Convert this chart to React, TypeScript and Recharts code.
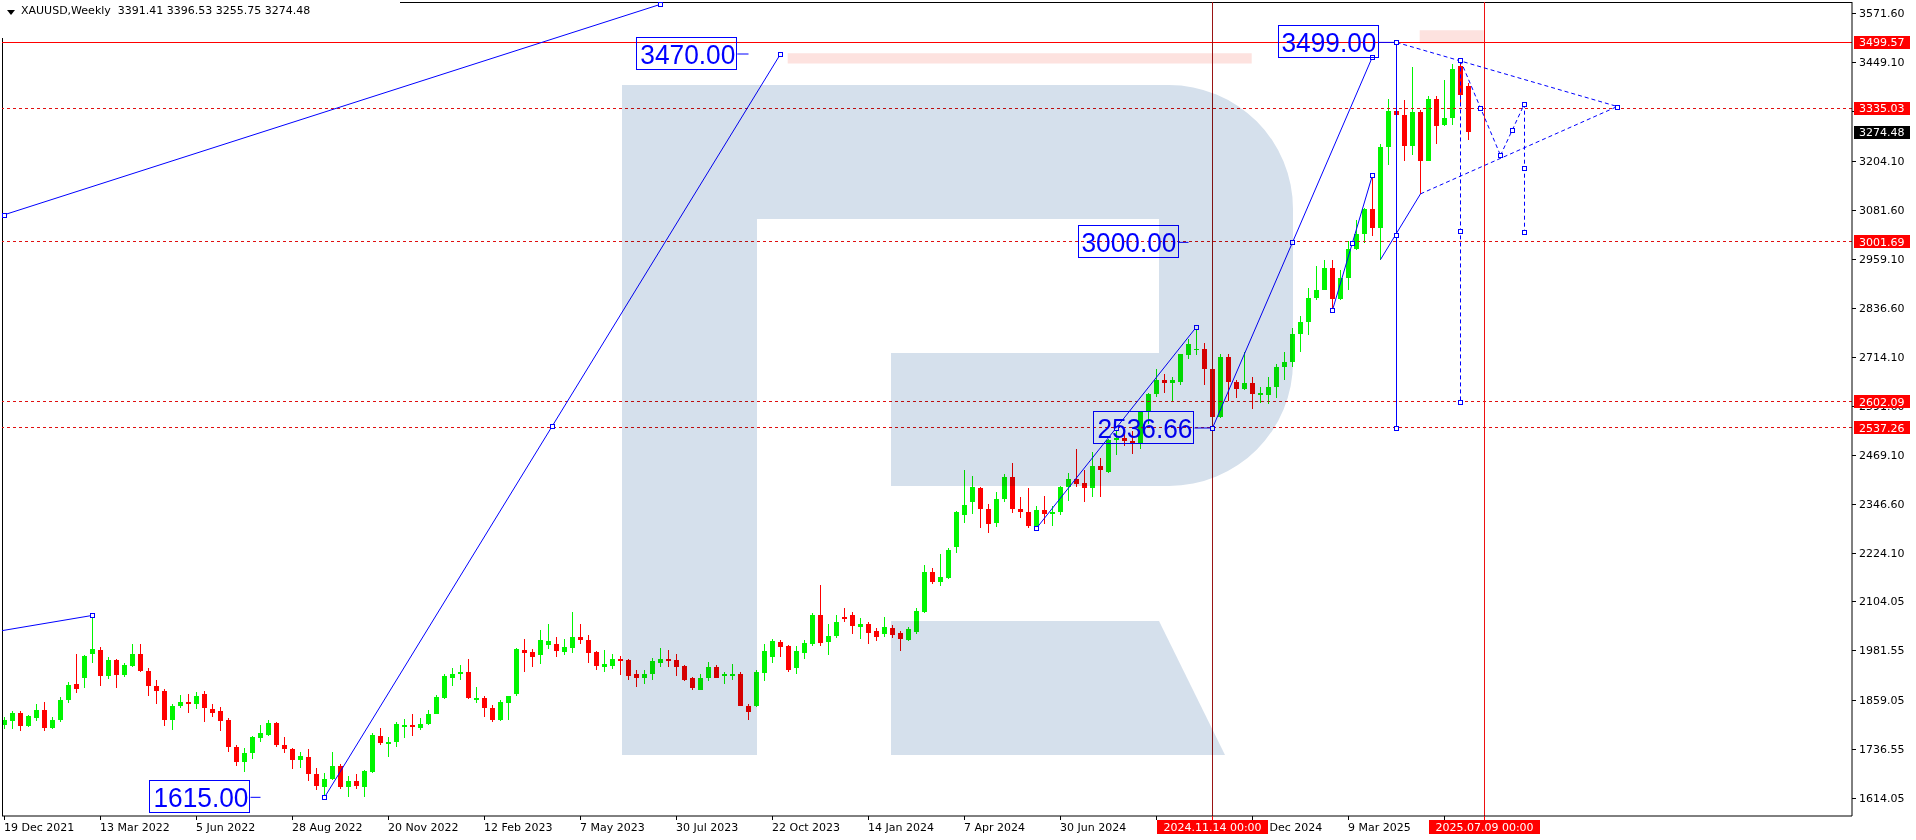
import React from 'react';
import { ComposedChart, Bar, XAxis, YAxis, ReferenceLine, ReferenceDot, ReferenceArea } from 'recharts';

// XAUUSD weekly candles, week index 0 = 19 Dec 2021
const opens = [
  1795, 1805, 1826, 1792, 1813, 1833, 1788, 1807, 1857, 1898, 1914, 1972, 1983, 1918, 1957, 1921, 1943, 1972, 1930, 1893,
  1881, 1808, 1844, 1852, 1848, 1872, 1836, 1830, 1808, 1740, 1703, 1725, 1763, 1770, 1800, 1745, 1735, 1709, 1715, 1674,
  1641, 1660, 1694, 1641, 1656, 1641, 1679, 1768, 1748, 1752, 1790, 1795, 1788, 1798, 1824, 1864, 1914, 1922, 1927, 1857,
  1862, 1839, 1807, 1850, 1874, 1983, 1977, 1970, 1995, 1997, 1977, 1987, 2014, 2007, 1977, 1940, 1942, 1959, 1957, 1924,
  1914, 1922, 1950, 1959, 1957, 1942, 1912, 1884, 1912, 1939, 1917, 1919, 1924, 1844, 1844, 1925, 1964, 2002, 1992, 1937,
  1975, 1997, 2071, 2002, 2017, 2064, 2071, 2039, 2047, 2029, 2022, 2037, 2024, 2007, 2027, 2077, 2177, 2152, 2162, 2239,
  2319, 2352, 2387, 2334, 2299, 2360, 2415, 2334, 2327, 2293, 2331, 2321, 2326, 2389, 2410, 2399, 2386, 2443, 2428, 2507,
  2512, 2503, 2497, 2578, 2621, 2657, 2650, 2652, 2718, 2733, 2733, 2685, 2563, 2715, 2652, 2633, 2649, 2618, 2619, 2638,
  2689, 2702, 2771, 2800, 2861, 2882, 2936, 2858, 2910, 2984, 3022, 3084, 3037, 3238, 3327, 3319, 3240, 3326, 3204, 3357,
  3292, 3311, 3440, 3391.41,
];
const highs = [
  1816, 1830, 1830, 1820, 1848, 1853, 1815, 1865, 1902, 1972, 1970, 2070, 1990, 1966, 1960, 1949, 1998, 1998, 1937, 1908,
  1885, 1849, 1870, 1872, 1879, 1880, 1847, 1841, 1814, 1746, 1739, 1767, 1795, 1807, 1802, 1765, 1738, 1727, 1735, 1688,
  1675, 1729, 1698, 1668, 1673, 1682, 1775, 1787, 1765, 1804, 1811, 1824, 1812, 1833, 1870, 1923, 1937, 1946, 1959, 1890,
  1869, 1846, 1858, 1869, 1988, 2009, 1986, 2032, 2048, 2014, 2009, 2077, 2047, 2021, 1980, 1982, 1972, 1967, 1960, 1932,
  1934, 1962, 1987, 1982, 1972, 1945, 1915, 1922, 1952, 1944, 1929, 1947, 1927, 1848, 1933, 1997, 2009, 2007, 1995, 1992,
  2007, 2075, 2144, 2047, 2069, 2087, 2077, 2062, 2052, 2037, 2064, 2044, 2029, 2039, 2087, 2194, 2187, 2222, 2236, 2330,
  2431, 2417, 2390, 2347, 2377, 2422, 2450, 2364, 2388, 2342, 2368, 2341, 2392, 2424, 2484, 2432, 2477, 2462, 2509, 2531,
  2528, 2529, 2580, 2625, 2685, 2672, 2665, 2721, 2758, 2790, 2750, 2688, 2721, 2722, 2657, 2726, 2664, 2638, 2665, 2697,
  2726, 2786, 2817, 2887, 2942, 2955, 2957, 2930, 3004, 3057, 3086, 3167, 3245, 3358, 3500, 3354, 3438, 3330, 3366, 3365,
  3404, 3446, 3452, 3396.53,
];
const lows = [
  1785, 1786, 1781, 1790, 1805, 1780, 1786, 1804, 1850, 1875, 1887, 1950, 1892, 1910, 1888, 1915, 1940, 1928, 1867, 1847,
  1794, 1782, 1837, 1825, 1836, 1802, 1816, 1781, 1727, 1694, 1677, 1711, 1754, 1767, 1740, 1725, 1685, 1687, 1655, 1634,
  1615, 1657, 1636, 1617, 1636, 1617, 1675, 1745, 1716, 1740, 1763, 1769, 1783, 1795, 1822, 1860, 1892, 1908, 1861, 1850,
  1815, 1804, 1805, 1809, 1867, 1929, 1940, 1947, 1985, 1965, 1970, 1975, 1997, 1949, 1932, 1929, 1936, 1921, 1907, 1890,
  1899, 1909, 1941, 1939, 1919, 1906, 1882, 1882, 1905, 1913, 1897, 1909, 1843, 1807, 1840, 1905, 1949, 1966, 1929, 1924,
  1961, 1992, 1992, 1969, 2012, 2052, 2022, 2009, 1997, 2004, 2014, 2012, 1979, 2005, 2022, 2074, 2147, 2142, 2160, 2224,
  2299, 2322, 2287, 2274, 2289, 2353, 2325, 2312, 2286, 2287, 2297, 2293, 2319, 2354, 2389, 2351, 2364, 2365, 2425, 2470,
  2491, 2471, 2485, 2547, 2614, 2624, 2603, 2643, 2708, 2720, 2643, 2537, 2562, 2605, 2612, 2631, 2583, 2600, 2596, 2612,
  2656, 2688, 2727, 2770, 2855, 2880, 2832, 2855, 2880, 2982, 2999, 3015, 2957, 3194, 3260, 3202, 3219, 3121, 3202, 3246,
  3291, 3294, 3342, 3255.75,
];
const closes = [
  1808, 1826, 1793, 1818, 1833, 1788, 1807, 1857, 1896, 1886, 1968, 1985, 1918, 1957, 1921, 1944, 1972, 1930, 1893, 1880,
  1808, 1844, 1853, 1848, 1869, 1838, 1826, 1805, 1740, 1703, 1725, 1765, 1775, 1800, 1745, 1736, 1708, 1717, 1673, 1643,
  1660, 1694, 1642, 1655, 1644, 1680, 1770, 1750, 1752, 1797, 1795, 1790, 1798, 1822, 1865, 1919, 1924, 1927, 1862, 1864,
  1837, 1807, 1854, 1867, 1984, 1975, 1965, 2007, 2004, 1979, 1989, 2014, 2007, 1975, 1942, 1947, 1959, 1955, 1917, 1914,
  1924, 1954, 1959, 1954, 1939, 1909, 1887, 1912, 1939, 1914, 1922, 1924, 1844, 1827, 1929, 1979, 2004, 1990, 1934, 1979,
  1999, 2069, 1999, 2017, 2052, 2059, 2042, 2047, 2024, 2014, 2039, 2019, 2009, 2034, 2079, 2177, 2152, 2164, 2232, 2327,
  2344, 2389, 2334, 2297, 2359, 2415, 2334, 2327, 2293, 2332, 2321, 2326, 2389, 2410, 2398, 2386, 2443, 2431, 2507, 2512,
  2503, 2497, 2578, 2621, 2657, 2650, 2657, 2721, 2746, 2735, 2684, 2563, 2715, 2652, 2633, 2649, 2622, 2623, 2640, 2689,
  2702, 2771, 2800, 2861, 2882, 2936, 2858, 2910, 2984, 3022, 3084, 3037, 3238, 3327, 3319, 3240, 3326, 3202, 3357, 3290,
  3311, 3433, 3368, 3274.48,
];

// time axis
const xTickWeeks = [0, 12, 24, 36, 48, 60, 72, 84, 96, 108, 120, 132, 144, 156, 168, 180];
const xTickLabels = [
  '19 Dec 2021', '13 Mar 2022', '5 Jun 2022', '28 Aug 2022', '20 Nov 2022', '12 Feb 2023', '7 May 2023', '30 Jul 2023',
  '22 Oct 2023', '14 Jan 2024', '7 Apr 2024', '30 Jun 2024', '22 Sep 2024', '15 Dec 2024', '9 Mar 2025', '1 Jun 2025',
];
const markWeeks = [151, 185];
const markLabels = ['2024.11.14 00:00', '2025.07.09 00:00'];

// price axis
const yTicks = [
  1614.05, 1736.55, 1859.05, 1981.55, 2104.05, 2224.1, 2346.6, 2469.1, 2591.6, 2714.1, 2836.6, 2959.1, 3081.6, 3204.1,
  3326.6, 3449.1, 3571.6,
];
const resistance = 3499.57;
const dashedLevels = [3335.03, 3001.69, 2602.09, 2537.26];

// drawn objects (week index, price)
const solidLines = [
  [0, 3069, 82, 3594],
  [-0.3, 2031, 11, 2069],
  [40, 1615, 97, 3470],
  [129, 2286.6, 149, 2789],
  [151, 2536.66, 171, 3463.34],
  [166, 2831, 171, 3168],
  [174, 3499, 174, 2536.66],
  [172, 2957, 177, 3121],
];
const dashedLines = [
  [174, 3499, 201.6, 3339],
  [177, 3121, 201.6, 3339],
  [182, 3454, 182, 2602],
  [182, 3454, 187, 3217],
  [187, 3217, 190, 3346],
  [190, 3346, 190, 3025],
];
const nodePoints = [
  [0, 3069], [82, 3594], [11, 2069], [40, 1615], [68.5, 2542.5], [97, 3470], [129, 2286.6], [139, 2537.8],
  [149, 2789], [151, 2536.66], [161, 3000], [171, 3463.34], [166, 2831], [168.5, 2999.5], [171, 3168],
  [174, 3499], [174, 3017.8], [174, 2536.66], [182, 3454], [182, 3028], [182, 2602], [184.5, 3335.5],
  [188.5, 3281.5], [190, 3346], [190, 3185.5], [190, 3025], [187, 3217], [201.6, 3339],
];
const tagValues = [3470.0, 3499.0, 3000.0, 2536.66, 1615.0];
const tagBoxEnd = [91.6, 171.75, 146.75, 148.75, 30.75];
const tagLeaderEnd = [93, 174, 148, 151, 32];
const pinkZones = [
  [97.9, 155.9, 3446.6, 3471.6],
  [176.9, 184.9, 3496.5, 3529],
];

const UP = '#00f500';
const DOWN = '#ff0000';
const BLUE = '#0000ff';
const FONT = 'DejaVu Sans';
// half-pixel offset so that bar centres fall on pixel centres
const X_DOMAIN = [-0.3125, 230.9375];
const Y_DOMAIN = [1568.4, 3599.8];

const data = opens.map((o, i) => ({
  week: i,
  open: o,
  high: highs[i],
  low: lows[i],
  close: closes[i],
  range: [lows[i], highs[i]],
}));
const last = data[data.length - 1];

function Candle(props: any) {
  const { x, y, width, height, payload } = props;
  if (x == null || y == null || !payload) return null;
  const { open, close, high, low } = payload;
  const color = close >= open ? UP : DOWN;
  const ppu = height / (high - low || 1);
  const cx = Math.floor(x + width / 2) + 0.5;
  const top = y + (high - Math.max(open, close)) * ppu;
  const bot = y + (high - Math.min(open, close)) * ppu;
  return (
    <g shapeRendering="crispEdges">
      <line x1={cx} x2={cx} y1={y} y2={y + height} stroke={color} />
      <rect x={cx - 2.5} y={top} width={5} height={Math.max(bot - top, 1)} fill={color} />
    </g>
  );
}

function XTick(props: any) {
  const { x, y, payload } = props;
  const v = payload.value;
  const m = markWeeks.indexOf(v);
  if (m >= 0) {
    return (
      <g shapeRendering="crispEdges">
        <line x1={x} x2={x} y1={y} y2={y + 4} stroke={DOWN} />
        <rect x={x - 55.5} y={y + 4} width={111} height={14} fill="#ff0000" />
        <text x={x} y={y + 15} textAnchor="middle" fill="#fff" fontFamily={FONT} fontSize={11}>
          {markLabels[m]}
        </text>
      </g>
    );
  }
  const k = xTickWeeks.indexOf(v);
  // labels sitting fully under a date marker box are not visible
  const covered = markWeeks.some((w) => v < w && w - v <= 7);
  return (
    <g>
      <line x1={x} x2={x} y1={y} y2={y + 4} stroke="#000" shapeRendering="crispEdges" />
      {!covered && (
        <text x={x - 0.5} y={y + 15} textAnchor="start" fill="#000" fontFamily={FONT} fontSize={11}>
          {xTickLabels[k]}
        </text>
      )}
    </g>
  );
}

function YTick(props: any) {
  const { x, y, payload } = props;
  const v = payload.value;
  const isMark = v === resistance || dashedLevels.includes(v);
  const isLast = v === last.close;
  if (isMark || isLast) {
    return (
      <g>
        <rect x={x + 2} y={y - 6.5} width={56} height={13} fill={isLast ? '#000' : '#ff0000'} shapeRendering="crispEdges" />
        <text x={x + 7} y={y + 4} fill="#fff" fontFamily={FONT} fontSize={11}>
          {v.toFixed(2)}
        </text>
      </g>
    );
  }
  return (
    <g>
      <line x1={x} x2={x + 4} y1={y + 0.5} y2={y + 0.5} stroke="#000" shapeRendering="crispEdges" />
      <text x={x + 7} y={y + 4} fill="#000" fontFamily={FONT} fontSize={11}>
        {v.toFixed(2)}
      </text>
    </g>
  );
}

const nodeShape = (p: any) => (
  <rect x={Math.floor(p.cx) - 1.5} y={Math.round(p.cy) - 2} width={4} height={4} fill="#fff" stroke={BLUE} shapeRendering="crispEdges" />
);

const tagShape = (label: string) => (p: any) => (
  <g>
    <rect x={Math.round(p.cx) - 100.5} y={Math.round(p.cy) - 16.5} width={100} height={32} fill="none" stroke={BLUE} />
    <text
      x={p.cx - 97}
      y={p.cy + 10}
      fill={BLUE}
      fontFamily="Liberation Sans"
      fontSize={27}
      textLength={95}
      lengthAdjust="spacingAndGlyphs"
    >
      {label}
    </text>
  </g>
);

export default function App() {
  return (
    <div style={{ position: 'relative', width: 1916, height: 840, background: '#fff', overflow: 'hidden' }}>
      <style>{'body{margin:0;background:#fff;}'}</style>
      <ComposedChart
        width={1916}
        height={840}
        data={data}
        margin={{ top: 2, right: 0, bottom: 0, left: 2 }}
        style={{ fontFamily: FONT }}
      >
        <XAxis
          dataKey="week"
          type="number"
          domain={X_DOMAIN}
          allowDataOverflow
          ticks={[...xTickWeeks, ...markWeeks]}
          interval={0}
          tick={<XTick />}
          tickLine={false}
          tickSize={0}
          tickMargin={0}
          height={24}
          axisLine={{ stroke: '#000' }}
        />
        <YAxis
          orientation="right"
          type="number"
          domain={Y_DOMAIN}
          allowDataOverflow
          ticks={[...yTicks, resistance, ...dashedLevels, last.close]}
          interval={0}
          tick={<YTick />}
          tickLine={false}
          tickSize={0}
          tickMargin={0}
          width={64}
          axisLine={{ stroke: '#000' }}
        />
        <ReferenceLine x={X_DOMAIN[0]} stroke="#000" ifOverflow="visible" shapeRendering="crispEdges" />
        <ReferenceLine y={Y_DOMAIN[1]} stroke="#000" ifOverflow="visible" shapeRendering="crispEdges" />
        {pinkZones.map((z, i) => (
          <ReferenceArea key={'pz' + i} x1={z[0]} x2={z[1]} y1={z[2]} y2={z[3]} fill="#fde2df" fillOpacity={1} stroke="none" />
        ))}
        <ReferenceLine y={resistance} stroke="#ff0000" shapeRendering="crispEdges" />
        {dashedLevels.map((v) => (
          <ReferenceLine key={'dl' + v} y={v} stroke="#e01010" strokeDasharray="3 3" shapeRendering="crispEdges" />
        ))}
        <ReferenceLine x={markWeeks[0]} stroke="#9a1414" />
        <ReferenceLine x={markWeeks[1]} stroke="#ee1111" />
        <Bar dataKey="range" barSize={5} shape={(p: any) => <Candle {...p} />} isAnimationActive={false} />
        {solidLines.map((s, i) => (
          <ReferenceLine
            key={'sl' + i}
            segment={[{ x: s[0], y: s[1] }, { x: s[2], y: s[3] }]}
            stroke={BLUE}
            ifOverflow="hidden"
          />
        ))}
        {dashedLines.map((s, i) => (
          <ReferenceLine
            key={'ds' + i}
            segment={[{ x: s[0], y: s[1] }, { x: s[2], y: s[3] }]}
            stroke={BLUE}
            strokeDasharray="4 3"
            ifOverflow="hidden"
          />
        ))}
        {tagValues.map((v, i) => (
          <ReferenceLine
            key={'tl' + i}
            segment={[{ x: tagBoxEnd[i], y: v }, { x: tagLeaderEnd[i], y: v }]}
            stroke={BLUE}
            ifOverflow="hidden"
          />
        ))}
        {nodePoints.map((p, i) => (
          <ReferenceDot key={'np' + i} x={p[0]} y={p[1]} r={2} shape={nodeShape} ifOverflow="hidden" />
        ))}
        {tagValues.map((v, i) => (
          <ReferenceDot key={'tg' + i} x={tagBoxEnd[i]} y={v} r={1} shape={tagShape(v.toFixed(2))} ifOverflow="visible" />
        ))}
      </ComposedChart>

      {/* broker logo watermark */}
      <svg
        width={1916}
        height={840}
        style={{ position: 'absolute', left: 0, top: 0, pointerEvents: 'none', mixBlendMode: 'multiply' }}
      >
        <g fill="#d5e0ec">
          <path d="M622,85 H757 V755 H622 Z" />
          <path d="M757,85 H1169 A124,124 0 0 1 1293,209 V362 A124,124 0 0 1 1169,486 H891 V353 H1159 V219 H757 Z" />
          <path d="M891,621 H1159 L1225,755 H891 Z" />
        </g>
      </svg>

      <div
        style={{
          position: 'absolute',
          left: 0,
          top: 0,
          width: 400,
          height: 38,
          background: '#fff',
          fontFamily: FONT,
          fontSize: 11,
          color: '#000',
        }}
      >
        <svg width={16} height={20} style={{ position: 'absolute', left: 0, top: 0 }}>
          <polygon points="7,10 15,10 11,15" fill="#000" />
        </svg>
        <span style={{ position: 'absolute', left: 21, top: 4, whiteSpace: 'pre' }}>
          {`XAUUSD,Weekly  ${last.open.toFixed(2)} ${last.high.toFixed(2)} ${last.low.toFixed(2)} ${last.close.toFixed(2)}`}
        </span>
      </div>
    </div>
  );
}
